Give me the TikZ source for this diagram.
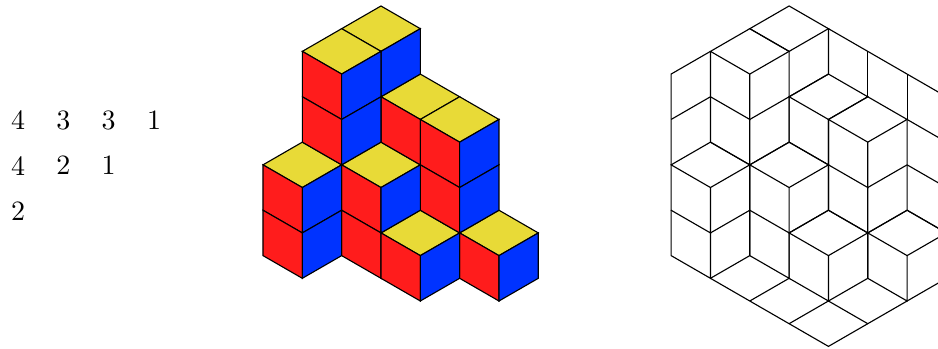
\documentclass[tikz,border=0pt]{standalone}
\usepackage{tikz}
\usetikzlibrary{positioning}
\definecolor{cubeRed}{RGB}{255,28,28}
\definecolor{cubeBlue}{RGB}{0,51,255}
\definecolor{cubeYellow}{RGB}{232,218,55}
\def\topfaces{2/1,1/2,3/4,4/5,0/7,2/7,3/10,5/10}
\def\redfaces{1/2,1/4,3/4,4/5,4/7,0/7,0/9,2/7,2/9,3/10,5/10}
\def\bluefaces{3/2,2/3,2/5,5/6,5/8,1/8,1/10,3/8,4/11,6/11}
\begin{document}
\begin{tikzpicture}[x=14.05pt,y=8.107pt,
  node distance=16.2pt and 16.2pt,on grid,
  num/.style={inner sep=0pt},
  edge/.style={draw=black,line width=0.4pt,line join=miter},
  yface/.style={edge,fill=cubeYellow},
  rface/.style={edge,fill=cubeRed},
  bface/.style={edge,fill=cubeBlue}]
\useasboundingbox (-6.687,0.264) rectangle (17.163,-15.11);
\clip (-6.687,0.264) rectangle (17.163,-15.11);
% the numbers
\node[num] (a1) at (-6.229,-5.035) {4};
\node[num,right=of a1] (a2) {3};
\node[num,right=of a2] (a3) {3};
\node[num,right=of a3] (a4) {1};
\node[num,below=of a1] (b1) {4};
\node[num,right=of b1] (b2) {2};
\node[num,right=of b2] (b3) {1};
\node[num,below=of b1] (c1) {2};
% coloured cubes
\foreach \i/\k in \topfaces
  \draw[yface] (\i,-\k) -- ++(1,1) -- ++(1,-1) -- ++(-1,-1) -- cycle;
\foreach \i/\k in \redfaces
  \draw[rface] (\i,-\k) -- ++(1,-1) -- ++(0,-2) -- ++(-1,1) -- cycle;
\foreach \i/\k in \bluefaces
  \draw[bface] (\i,-\k) -- ++(1,1) -- ++(0,-2) -- ++(-1,-1) -- cycle;
% same cubes as line drawing, with walls and floor
\begin{scope}[xshift=145.8pt]
\foreach \i/\k in \topfaces
  \draw[edge] (\i,-\k) -- ++(1,1) -- ++(1,-1) -- ++(-1,-1) -- cycle;
\foreach \i/\k in \redfaces
  \draw[edge] (\i,-\k) -- ++(0,-2) -- ++(1,-1) -- ++(0,2);
\foreach \i/\k in \bluefaces
  \draw[edge] (\i,-\k-2) -- ++(1,1) -- ++(0,2);
% outline
\draw[edge] (1,-2) -- (0,-3) -- (0,-7);
\draw[edge] (1,-12) -- (4,-15) -- (6,-13);
\draw[edge] (7,-12) -- (7,-4) -- (4,-1);
% left wall
\draw[edge] (0,-5) -- (1,-4);
% right wall
\draw[edge] (5,-2) -- (5,-4);
\draw[edge] (6,-3) -- (6,-5);
\draw[edge] (6,-5) -- (7,-6);
\draw[edge] (6,-7) -- (7,-8);
\draw[edge] (6,-9) -- (7,-10);
% floor
\draw[edge] (2,-13) -- (3,-12);
\draw[edge] (3,-14) -- (4,-13) -- (5,-14);
\end{scope}
\end{tikzpicture}
\end{document}
